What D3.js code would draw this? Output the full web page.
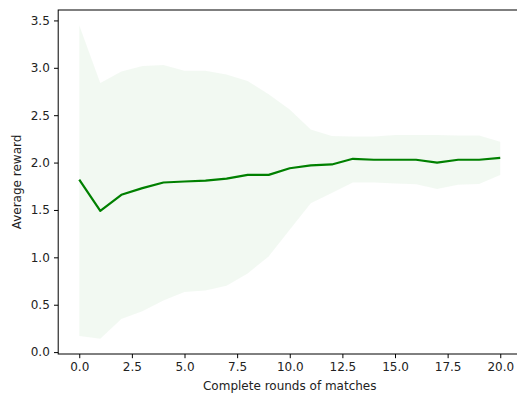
<!DOCTYPE html>
<html>
<head>
<meta charset="utf-8">
<script src="https://cdn.jsdelivr.net/npm/d3@7"></script>
<style>
  body { margin: 0; background: white; }
  text { font-family: "DejaVu Sans", sans-serif; }
</style>
</head>
<body>
<script>
// Average reward per complete round, with band

var rounds = d3.range(0, 21);
var meanReward = [1.82, 1.49, 1.66, 1.73, 1.79, 1.80, 1.81, 1.83, 1.87, 1.87, 1.94,
                  1.97, 1.98, 2.04, 2.03, 2.03, 2.03, 2.00, 2.03, 2.03, 2.05];
var upperReward = [3.45, 2.84, 2.96, 3.02, 3.03, 2.97, 2.97, 2.93, 2.86, 2.72, 2.56,
                   2.35, 2.28, 2.275, 2.275, 2.29, 2.29, 2.29, 2.285, 2.285, 2.22];
var lowerReward = [0.17, 0.14, 0.35, 0.43, 0.545, 0.635, 0.65, 0.70, 0.83, 1.01, 1.29,
                   1.57, 1.68, 1.79, 1.79, 1.78, 1.77, 1.72, 1.765, 1.775, 1.87];
var xTicks = [0, 2.5, 5, 7.5, 10, 12.5, 15, 17.5, 20];
var yTicks = [0, 0.5, 1, 1.5, 2, 2.5, 3, 3.5];

var w = 517,
    h = 394;

var plotL = 58.2, plotR = 521.3, plotT = 10, plotB = 354;
var tick = 4.2;

var svg = d3.select("body").append("svg")
    .attr("width", w)
    .attr("height", h);

svg.append("rect")
    .attr("width", "100%")
    .attr("height", "100%")
    .attr("fill", "white");

var x = d3.scaleLinear().domain([-1, 21]).range([plotL, plotR]);
var y = d3.scaleLinear().domain([-0.02, 3.61]).range([plotB, plotT]);

var rows = rounds.map(function(r, i) {
  return { r: r, m: meanReward[i], lo: lowerReward[i], hi: upperReward[i] };
});

// band
var area = d3.area()
    .x(function(d) { return x(d.r); })
    .y0(function(d) { return y(d.lo); })
    .y1(function(d) { return y(d.hi); });

svg.append("path")
    .datum(rows)
    .attr("d", area)
    .attr("fill", "green")
    .attr("fill-opacity", 0.05);

// mean line
var line = d3.line()
    .x(function(d) { return x(d.r); })
    .y(function(d) { return y(d.m); });

svg.append("path")
    .datum(rows)
    .attr("d", line)
    .attr("fill", "none")
    .attr("stroke", "green")
    .attr("stroke-width", 2.2)
    .attr("stroke-linejoin", "round");

// axes
var xAxis = d3.axisBottom(x)
    .tickValues(xTicks)
    .tickFormat(d3.format(".1f"))
    .tickSizeInner(tick)
    .tickSizeOuter(0)
    .tickPadding(tick);

var yAxis = d3.axisLeft(y)
    .tickValues(yTicks)
    .tickFormat(d3.format(".1f"))
    .tickSizeInner(tick)
    .tickSizeOuter(0)
    .tickPadding(tick);

var gx = svg.append("g")
    .attr("transform", "translate(0," + plotB + ")")
    .call(xAxis);

var gy = svg.append("g")
    .attr("transform", "translate(" + plotL + ",0)")
    .call(yAxis);

[gx, gy].forEach(function(g) {
  g.select(".domain").remove();
  g.selectAll(".tick line").attr("stroke", "#000").attr("stroke-width", 1);
  g.selectAll(".tick text")
    .attr("fill", "#222")
    .style("font-size", "12px")
    .style("font-family", "DejaVu Sans");
});

// spines
svg.append("rect")
    .attr("x", plotL)
    .attr("y", plotT)
    .attr("width", plotR - plotL)
    .attr("height", plotB - plotT)
    .attr("fill", "none")
    .attr("stroke", "#000")
    .attr("stroke-width", 1);

// labels
svg.append("text")
    .attr("x", (plotL + plotR) / 2)
    .attr("y", 390)
    .attr("text-anchor", "middle")
    .attr("fill", "#222")
    .style("font-size", "12px")
    .text("Complete rounds of matches");

svg.append("text")
    .attr("transform", "translate(21," + ((plotT + plotB) / 2) + ") rotate(-90)")
    .attr("text-anchor", "middle")
    .attr("fill", "#222")
    .style("font-size", "12px")
    .text("Average reward");
</script>
</body>
</html>
